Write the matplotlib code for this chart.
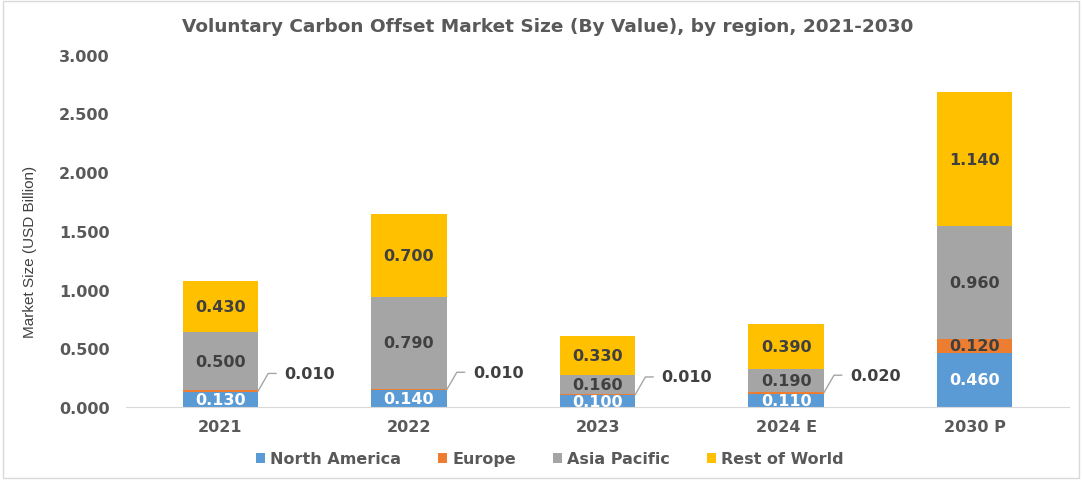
import matplotlib.pyplot as plt
import matplotlib.patches as patches
import numpy as np

## Data ##
years = ["2021", "2022", "2023", "2024 E", "2030 P"]
north_america = [0.130, 0.140, 0.100, 0.110, 0.460]
europe = [0.010, 0.010, 0.010, 0.020, 0.120]
asia_pacific = [0.500, 0.790, 0.160, 0.190, 0.960]
rest_of_world = [0.430, 0.700, 0.330, 0.390, 1.140]

series = [
    ("North America", north_america, "#5B9BD5", "white"),
    ("Europe", europe, "#ED7D31", "#404040"),
    ("Asia Pacific", asia_pacific, "#A5A5A5", "#404040"),
    ("Rest of World", rest_of_world, "#FFC000", "#404040"),
]

plt.rcParams['font.family'] = ['DejaVu Sans']
text_gray = "#595959"

fig = plt.figure(figsize=(10.82, 4.81), dpi=100)
ax = fig.add_axes([0.1165, 0.152, 0.8715, 0.732])

x = np.arange(len(years))
width = 0.4
bottom = np.zeros(len(years))

for name, vals, color, lab_color in series:
    vals = np.array(vals)
    ax.bar(x, vals, width, bottom=bottom, color=color, label=name)
    for i, v in enumerate(vals):
        mid = bottom[i] + v / 2
        if v < 0.05:
            # tiny segment -> label outside with leader line
            x0 = x[i] + width / 2
            ax.annotate(f"{v:.3f}", xy=(x0, mid), xytext=(x0 + 0.14, mid + 0.15),
                        ha="left", va="center", fontsize=11.5, fontweight="bold",
                        color="#404040",
                        arrowprops=dict(arrowstyle="-", color="#A5A5A5", lw=1,
                                        connectionstyle="angle,angleA=0,angleB=60,rad=0",
                                        shrinkA=4, shrinkB=0))
        else:
            ax.text(x[i], mid, f"{v:.3f}", ha="center", va="center",
                    fontsize=11.5, fontweight="bold", color=lab_color)
    bottom += vals

ax.set_ylim(0, 3.0)
ax.set_xlim(-0.5, len(years) - 0.5)
yt = np.arange(0, 3.01, 0.5)
ax.set_yticks(yt)
ax.set_yticklabels([f"{t:.3f}" for t in yt])
ax.set_xticks(x)
ax.set_xticklabels(years)
for lbl in ax.get_xticklabels() + ax.get_yticklabels():
    lbl.set_fontweight("bold")
    lbl.set_fontsize(11.5)
    lbl.set_color(text_gray)
ax.tick_params(axis="x", length=0, pad=9)
ax.tick_params(axis="y", length=0, pad=12)

for side in ["top", "right", "left"]:
    ax.spines[side].set_visible(False)
ax.spines["bottom"].set_color("#D9D9D9")

fig.text(30 / 1082, 1 - 252 / 481, "Market Size (USD Billion)", rotation=90,
         ha="center", va="center", fontsize=11, color="#404040", family="Liberation Sans")
fig.text(0.506, 0.944, "Voluntary Carbon Offset Market Size (By Value), by region, 2021-2030",
         ha="center", va="center", fontsize=13.3, fontweight="bold", color=text_gray)

leg = fig.legend(loc="center", bbox_to_anchor=(0.508, 0.044), ncol=4, frameon=False,
                 handlelength=0.6, handleheight=0.6, handletextpad=0.3, columnspacing=2.3,
                 prop={"weight": "bold", "size": 11.5})
for t in leg.get_texts():
    t.set_color(text_gray)

fig.patches.append(patches.Rectangle((0.003, 0.004), 0.994, 0.992, transform=fig.transFigure,
                                     fill=False, edgecolor="#D9D9D9", lw=1))

fig.savefig("out.png", dpi=100)
